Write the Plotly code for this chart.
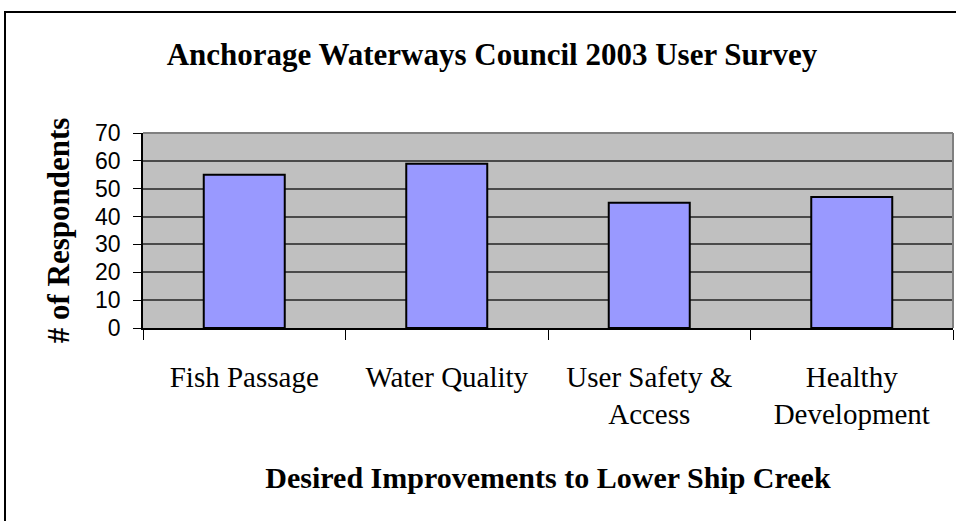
import plotly.graph_objects as go

categories = ["Fish Passage", "Water Quality", "User Safety &<br>Access", "Healthy<br>Development"]
respondents = [55, 59, 45, 47]
y_ticks = [0, 10, 20, 30, 40, 50, 60, 70]

chart_title = "Anchorage Waterways Council 2003 User Survey"
x_title = "Desired Improvements to Lower Ship Creek"
y_title = "# of Respondents"

W, H = 956, 521
L, R, T, B = 143, 3, 133, 193
pw = W - L - R
ph = H - T - B

fig = go.Figure()
fig.add_trace(go.Bar(
    x=categories, y=respondents, width=0.4,
    marker=dict(color="#9999FF", line=dict(color="black", width=2)),
    hoverinfo="x+y",
))

serif = "Liberation Serif, Times New Roman, serif"
sans = "Liberation Sans, Arial, sans-serif"

fig.update_layout(
    width=W, height=H,
    margin=dict(l=L, r=R, t=T, b=B, autoexpand=False),
    paper_bgcolor="white", plot_bgcolor="#C0C0C0",
    showlegend=False,
    bargap=0.6,
    title=dict(text="<b>" + chart_title + "</b>", x=(492) / W, xanchor="center",
               y=1 - 54 / H, yanchor="middle", yref="container", xref="container",
               font=dict(family=serif, size=31, color="black")),
    xaxis=dict(
        type="category", showline=True, linecolor="black", linewidth=1.5,
        ticks="outside", ticklen=10, tickcolor="black", tickwidth=1,
        tickson="boundaries", showgrid=False,
        tickfont=dict(family=serif, size=29, color="black"),
        ticklabelstandoff=22,
        title=dict(text="<b>" + x_title + "</b>", standoff=38,
                   font=dict(family=serif, size=30, color="black")),
        automargin=False, fixedrange=True,
    ),
    yaxis=dict(
        range=[0, 70], tickvals=y_ticks, ticktext=[str(v) for v in y_ticks],
        showline=True, linecolor="black", linewidth=1.5,
        ticks="outside", ticklen=8, tickcolor="black", tickwidth=1,
        showgrid=True, gridcolor="#4a4a4a", gridwidth=1.6,
        zeroline=False,
        tickfont=dict(family=sans, size=23, color="black"),
        ticklabelstandoff=8,
        title=dict(text="<b>" + y_title + "</b>", standoff=16,
                   font=dict(family=serif, size=31, color="black")),
        automargin=False, fixedrange=True,
    ),
    shapes=[
        # plot-area border (top/right in gray)
        dict(type="line", xref="paper", yref="paper", x0=0, x1=1, y0=1, y1=1,
             line=dict(color="#808080", width=2), layer="above"),
        dict(type="line", xref="paper", yref="paper", x0=1, x1=1, y0=0, y1=1,
             line=dict(color="#808080", width=2), layer="above"),
        # chart area outer border
        dict(type="rect", xref="paper", yref="paper",
             x0=(5 - L) / pw, x1=(W + 30 - L) / pw,
             y0=-(H + 30 - T - ph) / ph, y1=(H - B - 12) / ph,
             line=dict(color="black", width=2), fillcolor="rgba(0,0,0,0)", layer="above"),
    ],
)

fig.write_html(
    "out.html",
    config={"displayModeBar": False},
    post_script="document.body.style.margin='0';document.body.style.overflow='hidden';",
)
